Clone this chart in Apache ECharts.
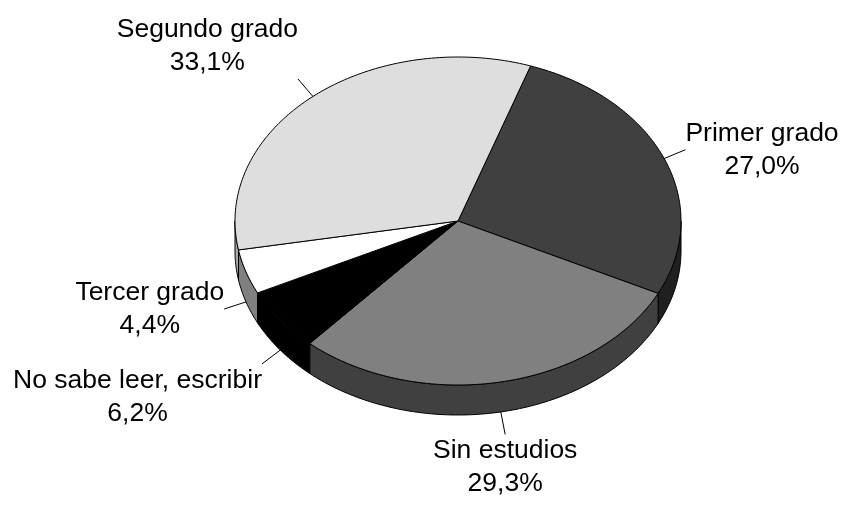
<!DOCTYPE html>
<html>
<head>
<meta charset="utf-8">
<script src="https://cdn.jsdelivr.net/npm/echarts@6/dist/echarts.min.js"></script>
<style>
  html, body { margin: 0; padding: 0; background: #fff; }
  #chart { width: 843px; height: 505px; }
</style>
</head>
<body>
<div id="chart"></div>
<script>
// slices in clockwise order, starting at the Segundo/Primer boundary
const categories = ['Primer grado', 'Sin estudios', 'No sabe leer, escribir', 'Tercer grado', 'Segundo grado'];
const values = [27.0, 29.3, 6.2, 4.4, 33.1];
const topColors = ['#404040', '#808080', '#000000', '#ffffff', '#dedede'];
const sideColors = ['#202020', '#404040', '#000000', '#808080', '#a8a8a8'];

// layout of the tilted pie
const CX = 458, CY = 221, RX = 223, RY = 164, DEPTH = 30;
const START = 19;      // degrees, clockwise from 12 o'clock
const LEADER = 23;
const FONT = '26.5px "Liberation Sans", Arial, sans-serif';

const total = values.reduce((s, v) => s + v, 0);

const pt = (deg, dy) => {
  const r = deg * Math.PI / 180;
  return [CX + RX * Math.sin(r), CY - RY * Math.cos(r) + (dy || 0)];
};

const arc = (from, to, dy) => {
  const out = [];
  const n = Math.max(2, Math.ceil(Math.abs(to - from)));
  for (let k = 0; k <= n; k++) out.push(pt(from + (to - from) * k / n, dy));
  return out;
};

const fmt = v => v.toFixed(1).replace('.', ',') + '%';

// width of a label block, so lines can stay centred inside it
const measureCtx = document.createElement('canvas').getContext('2d');
const blockWidth = text => {
  measureCtx.font = FONT;
  return Math.max(...text.split('\n').map(l => measureCtx.measureText(l).width));
};

function renderItem(params, api) {
  const i = params.dataIndex;
  let a0 = START;
  for (let k = 0; k < i; k++) a0 += values[k] / total * 360;
  const a1 = a0 + api.value(0) / total * 360;
  const children = [];

  // visible outer wall (front half only)
  const w0 = Math.max(a0, 90), w1 = Math.min(a1, 270);
  if (w1 > w0) {
    children.push({
      type: 'polygon',
      z2: 1,
      shape: { points: arc(w0, w1, 0).concat(arc(w1, w0, DEPTH)) },
      style: { fill: sideColors[i], stroke: '#000', lineWidth: 1 }
    });
  }

  // top face
  children.push({
    type: 'polygon',
    z2: 2,
    shape: { points: [[CX, CY]].concat(arc(a0, a1, 0)) },
    style: { fill: topColors[i], stroke: '#000', lineWidth: 1, lineJoin: 'round' }
  });

  // leader line + label
  const mid = (a0 + a1) / 2;
  const m = ((mid % 360) + 360) % 360;
  const front = m > 90 && m < 270;
  const s = pt(mid, front ? DEPTH : 0);
  const ux = Math.sin(mid * Math.PI / 180), uy = -Math.cos(mid * Math.PI / 180);
  const e = [s[0] + ux * LEADER, s[1] + uy * LEADER];
  children.push({
    type: 'line',
    z2: 3,
    shape: { x1: s[0], y1: s[1], x2: e[0], y2: e[1] },
    style: { stroke: '#000', lineWidth: 1 }
  });

  const text = categories[i] + '\n' + fmt(api.value(0));
  const half = blockWidth(text) / 2;
  const tx = ux > 0.5 ? e[0] + half : ux < -0.5 ? e[0] - half : e[0];
  const vAlign = uy < -0.5 ? 'bottom' : uy > 0.5 ? 'top' : 'middle';
  children.push({
    type: 'text',
    z2: 3,
    x: tx, y: e[1],
    style: {
      text,
      font: FONT,
      fill: '#000',
      align: 'center',
      verticalAlign: vAlign,
      lineHeight: 33
    }
  });
  return { type: 'group', children };
}

const chart = echarts.init(document.getElementById('chart'));
chart.setOption({
  backgroundColor: '#fff',
  animation: false,
  series: [{
    type: 'custom',
    coordinateSystem: 'none',
    silent: true,
    renderItem,
    data: values.map((v, i) => ({ name: categories[i], value: v }))
  }]
});
</script>
</body>
</html>
